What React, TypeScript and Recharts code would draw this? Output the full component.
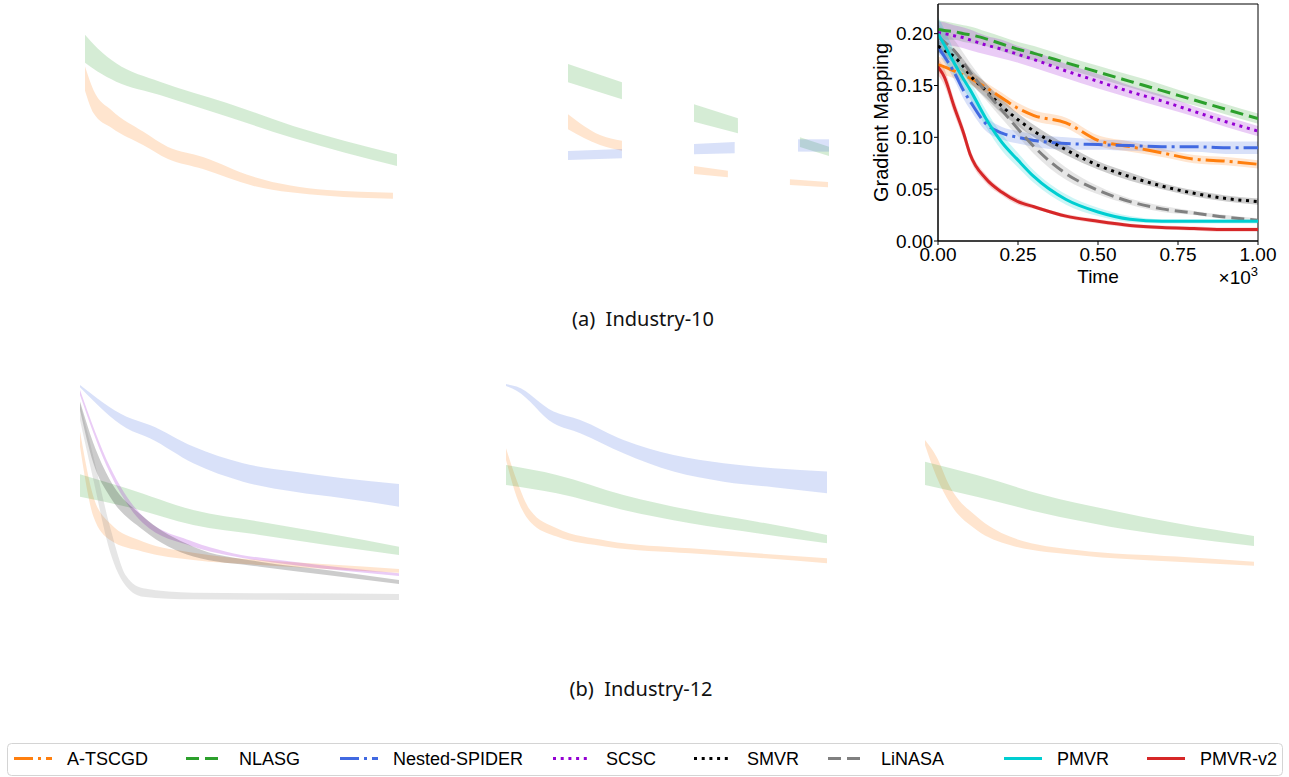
import React from 'react';
import { ComposedChart, Area, Line, XAxis, YAxis, ReferenceArea, Label } from 'recharts';

const Y_MAX = 0.2286;
const FONT = "'Liberation Sans', Arial, sans-serif";

const methods = ['A-TSCGD', 'NLASG', 'Nested-SPIDER', 'SCSC', 'SMVR', 'LiNASA', 'PMVR', 'PMVR-v2'];
const colors = ['#ff7f0e', '#2ca02c', '#4169e1', '#9400d3', '#000000', '#808080', '#00ced1', '#d62728'];
const dashes = ['19 5 3 5', '13 6', '19 5 3 5', '3 4.7', '3 4.7', '13 6', undefined, undefined];

// (a) Industry-10, right panel (the only one with lines and axes)
const timeTicks = [0, 0.25, 0.5, 0.75, 1];
const gmTicks = [0, 0.05, 0.1, 0.15, 0.2];
const mainTime = [0, 0.02, 0.05, 0.08, 0.1, 0.15, 0.2, 0.25, 0.3, 0.4, 0.5, 0.6, 0.7, 0.8, 0.9, 1];
const atscgdMean = [0.17, 0.168, 0.164, 0.16, 0.157, 0.148, 0.138, 0.128, 0.121, 0.114, 0.097, 0.091, 0.085, 0.079, 0.077, 0.074];
const nlasgMean = [0.204, 0.203, 0.202, 0.2, 0.199, 0.195, 0.19, 0.185, 0.181, 0.172, 0.163, 0.154, 0.145, 0.136, 0.127, 0.118];
const spiderMean = [0.187, 0.178, 0.163, 0.145, 0.135, 0.113, 0.104, 0.1, 0.097, 0.094, 0.093, 0.092, 0.091, 0.091, 0.09, 0.09];
const scscMean = [0.201, 0.2, 0.198, 0.196, 0.194, 0.189, 0.185, 0.18, 0.175, 0.164, 0.154, 0.144, 0.135, 0.125, 0.115, 0.106];
const smvrMean = [0.188, 0.184, 0.178, 0.168, 0.16, 0.145, 0.13, 0.117, 0.106, 0.088, 0.073, 0.062, 0.053, 0.046, 0.041, 0.038];
const linasaMean = [0.197, 0.192, 0.184, 0.172, 0.163, 0.144, 0.126, 0.108, 0.091, 0.065, 0.049, 0.038, 0.031, 0.027, 0.023, 0.02];
const pmvrMean = [0.2, 0.189, 0.172, 0.156, 0.146, 0.118, 0.095, 0.078, 0.062, 0.04, 0.028, 0.021, 0.019, 0.019, 0.019, 0.019];
const pmvr2Mean = [0.168, 0.158, 0.13, 0.104, 0.084, 0.06, 0.047, 0.038, 0.033, 0.024, 0.019, 0.015, 0.013, 0.012, 0.011, 0.011];

const atscgdStd = [0.008, 0.008, 0.007, 0.006, 0.006, 0.005, 0.005, 0.005, 0.005, 0.005, 0.005, 0.005, 0.004, 0.004, 0.004, 0.004];
const nlasgStd = [0.009, 0.009, 0.008, 0.008, 0.008, 0.007, 0.007, 0.007, 0.007, 0.006, 0.006, 0.006, 0.006, 0.005, 0.005, 0.005];
const spiderStd = [0.006, 0.006, 0.007, 0.008, 0.008, 0.007, 0.006, 0.006, 0.006, 0.006, 0.005, 0.005, 0.005, 0.005, 0.006, 0.006];
const scscStd = [0.011, 0.011, 0.01, 0.01, 0.01, 0.009, 0.009, 0.008, 0.008, 0.007, 0.007, 0.006, 0.006, 0.005, 0.005, 0.005];
const smvrStd = [0.006, 0.006, 0.007, 0.007, 0.007, 0.007, 0.007, 0.006, 0.006, 0.005, 0.004, 0.004, 0.003, 0.003, 0.003, 0.003];
const linasaStd = [0.012, 0.011, 0.01, 0.009, 0.009, 0.008, 0.008, 0.007, 0.007, 0.006, 0.004, 0.003, 0.003, 0.002, 0.002, 0.002];
const pmvrStd = [0.016, 0.015, 0.012, 0.01, 0.009, 0.008, 0.008, 0.007, 0.006, 0.005, 0.004, 0.003, 0.002, 0.002, 0.002, 0.002];
const pmvr2Std = [0.008, 0.008, 0.007, 0.006, 0.005, 0.004, 0.003, 0.003, 0.002, 0.002, 0.002, 0.002, 0.002, 0.002, 0.002, 0.002];

const meanSeries = [atscgdMean, nlasgMean, spiderMean, scscMean, smvrMean, linasaMean, pmvrMean, pmvr2Mean];
const stdSeries = [atscgdStd, nlasgStd, spiderStd, scscStd, smvrStd, linasaStd, pmvrStd, pmvr2Std];

// shaded bands of the other panels: [time, low, high]
const tlNlasg = [[0, 0.172, 0.199], [0.04, 0.1634, 0.186], [0.1, 0.1537, 0.1715], [0.24, 0.1409, 0.1537], [0.455, 0.12, 0.1332], [0.667, 0.0994, 0.111], [1, 0.0724, 0.0837]];
const tlAtscgd = [[0, 0.145, 0.1682], [0.027, 0.1235, 0.1457], [0.086, 0.109, 0.1258], [0.186, 0.0926, 0.1055], [0.266, 0.0791, 0.0907], [0.378, 0.0695, 0.0811], [0.538, 0.0534, 0.0621], [0.776, 0.0437, 0.0492], [0.987, 0.0408, 0.0466]];

// top middle panel only shows pieces of its bands
const tmNlasg = [
  [[0.192, 0.1531, 0.1708], [0.359, 0.1367, 0.1531]],
  [[0.582, 0.1151, 0.1319], [0.718, 0.1039, 0.1184]],
  [[0.91, 0.0907, 0.1], [1, 0.082, 0.091]],
];
const tmAtscgd = [
  [[0.192, 0.1078, 0.1223], [0.291, 0.0926, 0.1023], [0.359, 0.0871, 0.0968]],
  [[0.582, 0.0647, 0.0724], [0.687, 0.0615, 0.0678]],
  [[0.879, 0.054, 0.0595], [0.997, 0.0518, 0.0569]],
];
const tmSpider = [
  [[0.192, 0.0782, 0.0868], [0.359, 0.0798, 0.0888]],
  [[0.582, 0.0837, 0.0936], [0.708, 0.0846, 0.0955]],
  [[0.904, 0.0862, 0.0981], [1, 0.0862, 0.0981]],
];

// (b) Industry-12
const blSpider = [[0, 0.2119, 0.2142], [0.146, 0.1724, 0.1836], [0.219, 0.1627, 0.1756], [0.355, 0.1386, 0.1547], [0.511, 0.1209, 0.1386], [0.668, 0.1113, 0.1306], [0.825, 0.1048, 0.1241], [1, 0.0968, 0.1187]];
const blNlasg = [[0, 0.1064, 0.128], [0.146, 0.0968, 0.1145], [0.355, 0.0791, 0.0936], [0.564, 0.0695, 0.0823], [0.773, 0.0598, 0.0711], [1, 0.0502, 0.0582]];
const blAtscgd = [[0, 0.1547, 0.1692], [0.042, 0.0872, 0.1064], [0.094, 0.0646, 0.0807], [0.198, 0.0534, 0.063], [0.355, 0.0453, 0.0524], [0.564, 0.0405, 0.0453], [0.773, 0.0367, 0.0412], [1, 0.0331, 0.0367]];
const blScsc = [[0, 0.2045, 0.2094], [0.094, 0.129, 0.1354], [0.198, 0.0807, 0.0872], [0.355, 0.0582, 0.063], [0.459, 0.0502, 0.0534], [0.668, 0.0405, 0.0437], [1, 0.0299, 0.0325]];
const blSmvr = [[0, 0.1901, 0.1981], [0.042, 0.1386, 0.1579], [0.094, 0.1064, 0.1225], [0.198, 0.0743, 0.0872], [0.355, 0.0486, 0.0582], [0.564, 0.0389, 0.0437], [0.773, 0.0309, 0.0357], [1, 0.0222, 0.026]];
const blLinasa = [[0, 0.1804, 0.1965], [0.042, 0.1225, 0.145], [0.094, 0.0534, 0.0775], [0.146, 0.0196, 0.0293], [0.198, 0.01, 0.018], [0.355, 0.0074, 0.0138], [0.668, 0.0068, 0.0132], [1, 0.0068, 0.0125]];

const bmSpider = [[0, 0.2132, 0.2151], [0.033, 0.2087, 0.2126], [0.148, 0.1772, 0.1885], [0.231, 0.1676, 0.1804], [0.366, 0.1483, 0.1611], [0.522, 0.1306, 0.1466], [0.678, 0.1209, 0.1386], [0.834, 0.1155, 0.1338], [1, 0.1097, 0.1306]];
const bmNlasg = [[0, 0.1177, 0.137], [0.158, 0.1097, 0.1274], [0.366, 0.0936, 0.1081], [0.574, 0.0807, 0.0936], [0.782, 0.0711, 0.0823], [1, 0.0614, 0.0695]];
const bmAtscgd = [[0, 0.1418, 0.1531], [0.033, 0.1064, 0.1225], [0.075, 0.0823, 0.0936], [0.158, 0.0679, 0.0759], [0.314, 0.0582, 0.064], [0.574, 0.0518, 0.0566], [0.782, 0.0476, 0.0518], [1, 0.0421, 0.047]];

const brNlasg = [[0, 0.1177, 0.1402], [0.157, 0.1064, 0.1274], [0.36, 0.0904, 0.1081], [0.562, 0.0775, 0.0936], [0.765, 0.0679, 0.0807], [1, 0.0589, 0.0685]];
const brAtscgd = [[0, 0.1563, 0.1611], [0.035, 0.1257, 0.145], [0.076, 0.1, 0.1161], [0.157, 0.0743, 0.0872], [0.258, 0.0598, 0.0679], [0.461, 0.0502, 0.055], [0.765, 0.0437, 0.0486], [1, 0.0399, 0.0437]];

const mainRows = mainTime.map((t, i) => {
  const row: any = { t };
  meanSeries.forEach((s, j) => {
    row['m' + j] = s[i];
    row['b' + j] = [s[i] - stdSeries[j][i], s[i] + stdSeries[j][i]];
  });
  return row;
});

const toRows = (pts: number[][]) => pts.map(([t, lo, hi]) => ({ t, band: [lo, hi] }));

// method index -> list of band pieces
type BandSet = { idx: number; pieces: number[][][] };

const BandPanel = ({ left, top, width, height, bands }: { left: number; top: number; width: number; height: number; bands: BandSet[] }) => (
  <div style={{ position: 'absolute', left, top }}>
    <ComposedChart width={width} height={height} margin={{ top: 0, right: 0, bottom: 0, left: 0 }}>
      <XAxis type="number" dataKey="t" domain={[0, 1]} allowDataOverflow hide />
      <YAxis type="number" domain={[0, Y_MAX]} allowDataOverflow hide />
      {bands.flatMap((b) =>
        b.pieces.map((p, k) => (
          <Area
            key={`${b.idx}-${k}`}
            data={toRows(p)}
            dataKey="band"
            type="monotone"
            stroke="none"
            fill={colors[b.idx]}
            fillOpacity={0.2}
            isAnimationActive={false}
          />
        ))
      )}
    </ComposedChart>
  </div>
);

const XLabel = (props: any) => {
  const { x, y, width } = props.viewBox;
  return (
    <g>
      <text x={x + width / 2} y={y + 42} textAnchor="middle" fontSize={19} fill="#000">Time</text>
      <text x={x + width} y={y + 43} textAnchor="end" fontSize={19} fill="#000">
        ×10<tspan fontSize={13} dy={-8}>3</tspan>
      </text>
    </g>
  );
};

const YLabel = (props: any) => {
  const { x, y, height } = props.viewBox;
  const cx = x + 10;
  const cy = y + height / 2;
  return (
    <text x={cx} y={cy} transform={`rotate(-90, ${cx}, ${cy})`} textAnchor="middle" fontSize={20} fill="#000">
      Gradient Mapping
    </text>
  );
};

const MainPanel = () => (
  <div style={{ position: 'absolute', left: 860, top: 0 }}>
    <ComposedChart width={429} height={300} data={mainRows} margin={{ top: 4, right: 31, bottom: 19, left: 18 }}>
      <XAxis
        dataKey="t"
        type="number"
        domain={[0, 1]}
        ticks={timeTicks}
        interval={0}
        allowDataOverflow
        tickFormatter={(v: number) => v.toFixed(2)}
        height={40}
        tickSize={4}
        tickMargin={3}
        axisLine={{ stroke: '#000' }}
        tickLine={{ stroke: '#000' }}
        tick={{ fill: '#000', fontSize: 19 }}
      >
        <Label content={XLabel} />
      </XAxis>
      <YAxis
        type="number"
        domain={[0, Y_MAX]}
        ticks={gmTicks}
        interval={0}
        allowDataOverflow
        tickFormatter={(v: number) => v.toFixed(2)}
        width={60}
        tickSize={4}
        tickMargin={1}
        axisLine={{ stroke: '#000' }}
        tickLine={{ stroke: '#000' }}
        tick={{ fill: '#000', fontSize: 19 }}
      >
        <Label content={YLabel} />
      </YAxis>
      {methods.map((m, i) => (
        <Area key={'b' + i} name={m} dataKey={'b' + i} type="monotone" stroke="none" fill={colors[i]} fillOpacity={0.2} isAnimationActive={false} />
      ))}
      {methods.map((m, i) => (
        <Line
          key={'m' + i}
          name={m}
          dataKey={'m' + i}
          type="monotone"
          stroke={colors[i]}
          strokeWidth={3}
          strokeDasharray={dashes[i]}
          dot={false}
          isAnimationActive={false}
        />
      ))}
      <ReferenceArea x1={0} x2={1} y1={0} y2={Y_MAX} fill="none" stroke="#000" strokeWidth={1} ifOverflow="visible" />
    </ComposedChart>
  </div>
);

const legendX = [14, 186, 340, 553, 694, 828, 1004, 1147];

const Overlay = () => (
  <svg width={1289} height={777} style={{ position: 'absolute', left: 0, top: 0, pointerEvents: 'none' }}>
    <text x={643} y={326} textAnchor="middle" fontSize={20} fontFamily="'Noto Sans', sans-serif" fill="#111" style={{ whiteSpace: 'pre' }}>
      {'(a)  Industry-10'}
    </text>
    <text x={641} y={696} textAnchor="middle" fontSize={20} fontFamily="'Noto Sans', sans-serif" fill="#111" style={{ whiteSpace: 'pre' }}>
      {'(b)  Industry-12'}
    </text>
    <rect x={7.5} y={743.5} width={1275} height={32} rx={4} fill="#fff" stroke="#d4d4d4" />
    {methods.map((m, i) => (
      <g key={m}>
        <line x1={legendX[i]} x2={legendX[i] + 38} y1={758.5} y2={758.5} stroke={colors[i]} strokeWidth={3} strokeDasharray={dashes[i]} />
        <text x={legendX[i] + 53} y={765} fontSize={18} fill="#000" fontFamily={FONT}>{m}</text>
      </g>
    ))}
  </svg>
);

export default function App() {
  return (
    <div style={{ position: 'absolute', left: 0, top: 0, width: 1289, height: 777, background: '#fff', fontFamily: FONT }}>
      <BandPanel left={85} top={4} width={312} height={237} bands={[{ idx: 0, pieces: [tlAtscgd] }, { idx: 1, pieces: [tlNlasg] }]} />
      <BandPanel left={506} top={4} width={323} height={237} bands={[{ idx: 0, pieces: tmAtscgd }, { idx: 1, pieces: tmNlasg }, { idx: 2, pieces: tmSpider }]} />
      <MainPanel />
      <BandPanel
        left={80}
        top={370}
        width={319}
        height={237}
        bands={[
          { idx: 0, pieces: [blAtscgd] },
          { idx: 1, pieces: [blNlasg] },
          { idx: 2, pieces: [blSpider] },
          { idx: 3, pieces: [blScsc] },
          { idx: 4, pieces: [blSmvr] },
          { idx: 5, pieces: [blLinasa] },
        ]}
      />
      <BandPanel left={506} top={370} width={321} height={237} bands={[{ idx: 0, pieces: [bmAtscgd] }, { idx: 1, pieces: [bmNlasg] }, { idx: 2, pieces: [bmSpider] }]} />
      <BandPanel left={925} top={370} width={329} height={237} bands={[{ idx: 0, pieces: [brAtscgd] }, { idx: 1, pieces: [brNlasg] }]} />
      <Overlay />
    </div>
  );
}
